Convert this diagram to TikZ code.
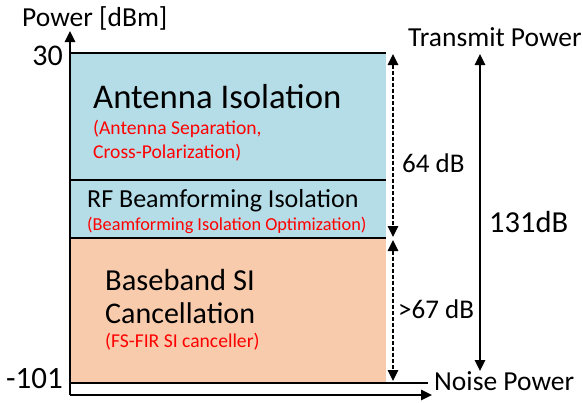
\documentclass[tikz,border=0pt]{standalone}
\usepackage{fontspec}
\setmainfont{Carlito}
\usetikzlibrary{arrows.meta}

\definecolor{isoblue}{RGB}{180,221,232}
\definecolor{sipeach}{RGB}{248,203,173}

\begin{document}
\begin{tikzpicture}[x=1pt, y=-1pt,
    tip/.style={-{Triangle[length=11pt,width=10.5pt]}},
    both/.style={{Triangle[length=11pt,width=10.5pt]}-{Triangle[length=11pt,width=10.5pt]}},
    lbl/.style={anchor=base west, inner sep=0pt},
    sub/.style={lbl, text=red}]
  \useasboundingbox (0,0) rectangle (583,402);

  % Isolation and cancellation bands
  \fill [isoblue] (70,53) rectangle (386,238);
  \fill [sipeach] (70,238) rectangle (386,383);
  \draw [line width=1.5pt] (70,53) -- (386,53);
  \draw [line width=1.5pt] (70,180) -- (386,180);
  \draw [line width=1.5pt] (70,238) -- (386,238);
  \draw [line width=1.5pt] (70,383) -- (428,383);

  % Axes
  \coordinate (org) at (70,395);
  \coordinate (ytop) at (70,31);
  \coordinate (xend) at (432,395);
  \draw [line width=1.5pt, tip] (org) -- (ytop);
  \draw [line width=1.5pt, tip] (org) -- (xend);

  % Axis labels
  \node (ylabel) [lbl, font=\fontsize{27.5}{27.5}\selectfont] at (22,26) {Power [dBm]};
  \node (tx) [anchor=base east, inner sep=0pt, font=\fontsize{30}{30}\selectfont] at (63,65) {30};
  \node (nf) [anchor=base east, inner sep=0pt, font=\fontsize{31}{31}\selectfont] at (63,388) {-101};
  \node (txlabel) [lbl, font=\fontsize{27.5}{27.5}\selectfont] at (408,46) {Transmit Power};
  \node (nflabel) [lbl, font=\fontsize{27.5}{27.5}\selectfont] at (434,390) {Noise Power};

  % Band texts
  \node (ant) [lbl, font=\fontsize{34.7}{34.7}\selectfont] at (93,108) {Antenna Isolation};
  \node (antsub) [sub, font=\fontsize{19.6}{19.6}\selectfont] at (93,134) {(Antenna Separation,};
  \node (antsub2) [sub, font=\fontsize{19.6}{19.6}\selectfont] at (93,158) {Cross-Polarization)};
  \node (rf) [lbl, font=\fontsize{26}{26}\selectfont] at (87,207) {RF Beamforming Isolation};
  \node (rfsub) [sub, font=\fontsize{18.3}{18.3}\selectfont] at (87,230) {(Beamforming Isolation Optimization)};
  \node (bb) [lbl, font=\fontsize{30.5}{30.5}\selectfont] at (105,290) {Baseband SI};
  \node (bb2) [lbl, font=\fontsize{30}{30}\selectfont] at (105,323) {Cancellation};
  \node (bbsub) [sub, font=\fontsize{19.6}{19.6}\selectfont] at (105,347) {(FS-FIR SI canceller)};

  % Dashed range arrows
  \coordinate (ra) at (393,54);
  \coordinate (rb) at (393,237);
  \coordinate (rc) at (393,240);
  \coordinate (rd) at (393,381);
  \draw [line width=1.4pt, dash pattern=on 4pt off 2pt, both] (ra) -- (rb);
  \draw [line width=1.4pt, dash pattern=on 4pt off 2pt, both] (rc) -- (rd);
  \node (isodb) [lbl, font=\fontsize{27}{27}\selectfont] at (402,172) {64 dB};
  \node (sidb) [lbl, font=\fontsize{27}{27}\selectfont] at (398,318) {>67 dB};

  % Total range
  \coordinate (ta) at (480,54);
  \coordinate (tb) at (480,371);
  \draw [line width=1.6pt, both] (ta) -- (tb);
  \node (total) [lbl, font=\fontsize{30.5}{30.5}\selectfont] at (489,232) {131dB};
\end{tikzpicture}
\end{document}
